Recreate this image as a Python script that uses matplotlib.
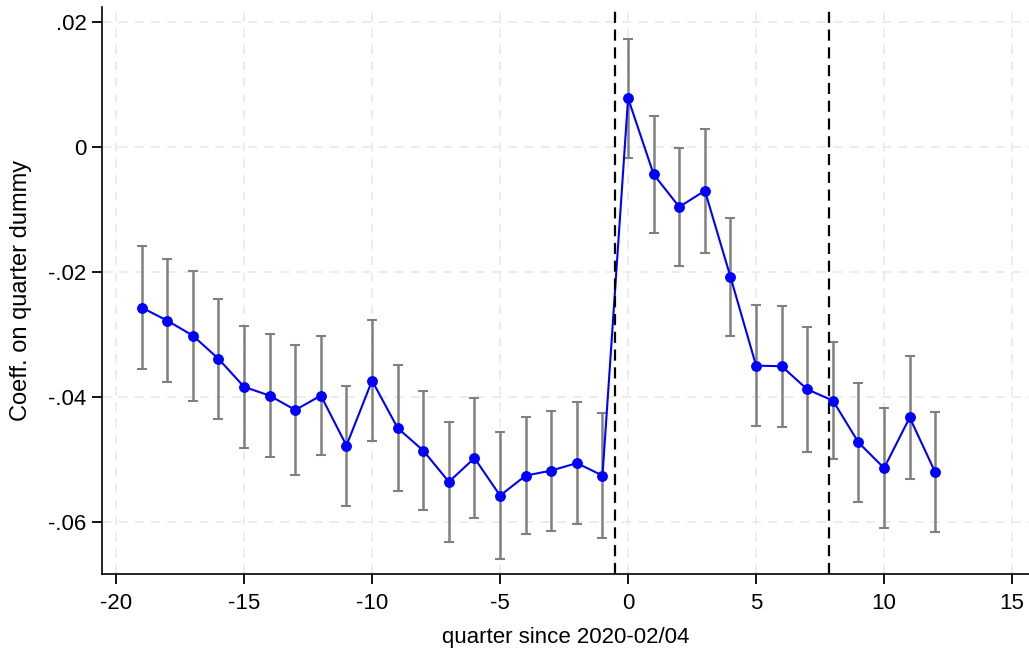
import numpy as np
import matplotlib.pyplot as plt

plt.rcParams['font.family'] = ['Liberation Sans', 'DejaVu Sans']
plt.rcParams['axes.unicode_minus'] = False

# quarter relative to 2020-02/04
quarter = [-19, -18, -17, -16, -15, -14, -13, -12, -11, -10, -9, -8, -7, -6, -5, -4, -3, -2, -1,
           0, 1, 2, 3, 4, 5, 6, 7, 8, 9, 10, 11, 12]
# coefficient on quarter dummy
coef = [-0.0257, -0.0278, -0.0302, -0.0339, -0.0384, -0.0398, -0.0421, -0.0398, -0.0478, -0.0374,
        -0.0450, -0.0486, -0.0536, -0.0498, -0.0558, -0.0526, -0.0518, -0.0506, -0.0526,
        0.0078, -0.0044, -0.0096, -0.0070, -0.0208, -0.0350, -0.0351, -0.0388, -0.0406,
        -0.0473, -0.0514, -0.0433, -0.0521]
# half-width of confidence interval
ci = [0.0099, 0.0099, 0.0104, 0.0096, 0.0098, 0.0099, 0.0104, 0.0095, 0.0096, 0.0097,
      0.0101, 0.0095, 0.0096, 0.0096, 0.0101, 0.0094, 0.0096, 0.0097, 0.0100,
      0.0095, 0.0094, 0.0095, 0.0099, 0.0094, 0.0097, 0.0097, 0.0100, 0.0094,
      0.0095, 0.0096, 0.0099, 0.0096]
vlines = [-0.5, 7.85]

xticks = [-20, -15, -10, -5, 0, 5, 10, 15]
yticks = [0.02, 0, -0.02, -0.04, -0.06]
ytick_labels = ['.02', '0', '-.02', '-.04', '-.06']

fig = plt.figure(figsize=(10.29, 6.48), dpi=100)
ax = fig.add_axes([0.0991, 0.1147, 0.9009, 0.8745])

ax.grid(True, color='#ebebeb', linestyle=(0, (5, 4)), linewidth=1.3)
ax.set_axisbelow(True)

ax.errorbar(quarter, coef, yerr=ci, fmt='none', ecolor='#808080', elinewidth=1.8,
            capsize=3.5, capthick=1.5, zorder=2)
ax.plot(quarter, coef, color='blue', linewidth=1.5, marker='o', markersize=6.8, zorder=3)

for v in vlines:
    ax.axvline(v, color='black', linestyle=(0, (5, 3)), linewidth=1.6, zorder=4)

ax.set_xlim(-20.55, 15.66)
ax.set_ylim(-0.0683, 0.0224)
ax.set_xticks(xticks)
ax.set_yticks(yticks)
ax.set_yticklabels(ytick_labels)
ax.tick_params(direction='out', length=7, width=1.3, labelsize=16, colors='black', pad=4)
ax.tick_params(axis='x', pad=7)

for s in ['top', 'right']:
    ax.spines[s].set_visible(False)
for s in ['left', 'bottom']:
    ax.spines[s].set_linewidth(1.2)

ax.set_xlabel('quarter since 2020-02/04', fontsize=16, labelpad=9)
ax.set_ylabel('Coeff. on quarter dummy', fontsize=17, labelpad=12)

plt.savefig('out.png', dpi=100)
